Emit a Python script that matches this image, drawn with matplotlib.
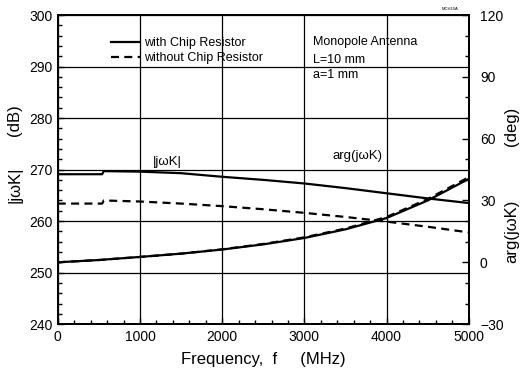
import numpy as np
import matplotlib
matplotlib.use('Agg')
import matplotlib.pyplot as plt
from matplotlib.ticker import MultipleLocator

plt.rcParams['font.family'] = ['Liberation Sans', 'DejaVu Sans']

# frequency grid (MHz)
freq = [0, 540, 560, 1000, 1500, 2000, 2500, 3000, 3500, 4000, 4500, 5000]

# |jwK| in dB
mag_with = [269.1, 269.1, 269.7, 269.6, 269.3, 268.6, 268.0, 267.3, 266.4, 265.4, 264.4, 263.5]
mag_without = [263.4, 263.4, 264.0, 263.8, 263.4, 262.9, 262.3, 261.6, 260.8, 259.9, 258.9, 257.8]

# arg(jwK) in degrees
arg_with = [0.0, 1.2, 1.3, 2.6, 4.2, 6.2, 8.7, 11.8, 16.0, 21.5, 30.0, 40.5]
arg_without = [0.0, 1.2, 1.3, 2.6, 4.2, 6.3, 8.9, 12.1, 16.4, 22.0, 30.7, 41.3]

fig = plt.figure(figsize=(5.25, 3.76), dpi=100)
ax = fig.add_axes([0.110, 0.138, 0.783, 0.822])
ax2 = ax.twinx()

lw = 1.6
dash = (0, (3.6, 2.4))
ax.plot(freq, mag_with, color='k', lw=lw, label='with Chip Resistor')
ax.plot(freq, mag_without, color='k', lw=lw, ls=dash, label='without Chip Resistor')
ax2.plot(freq, arg_with, color='k', lw=lw)
ax2.plot(freq, arg_without, color='k', lw=lw, ls=dash)

ax.set_xlim(0, 5000)
ax.set_ylim(240, 300)
ax2.set_ylim(-30, 120)

ax.xaxis.set_major_locator(MultipleLocator(1000))
ax.xaxis.set_minor_locator(MultipleLocator(200))
ax.yaxis.set_major_locator(MultipleLocator(10))
ax.yaxis.set_minor_locator(MultipleLocator(2))
ax2.yaxis.set_major_locator(MultipleLocator(30))
ax2.yaxis.set_minor_locator(MultipleLocator(10))

ax.grid(True, which='major', color='k', lw=0.9)
ax.tick_params(which='both', direction='in', top=False, right=False, labelsize=10, pad=4)
ax.tick_params(which='major', length=4, width=1)
ax.tick_params(which='minor', length=3, width=1)
ax2.tick_params(which='both', direction='in', labelsize=10, pad=8)
ax2.tick_params(which='major', length=5, width=1)
ax2.tick_params(which='minor', length=3, width=1)
for a in (ax, ax2):
    for s in a.spines.values():
        s.set_linewidth(1.4)

ax.set_xlabel('Frequency,  f     (MHz)', fontsize=12, labelpad=6)

# axis titles, split like the original
ax.text(-0.105, 0.66, '(dB)', transform=ax.transAxes, rotation=90,
        ha='center', va='center', fontsize=12)
ax.text(-0.105, 0.45, '|jωK|', transform=ax.transAxes, rotation=90,
        ha='center', va='center', fontsize=12)
ax.text(1.105, 0.64, '(deg)', transform=ax.transAxes, rotation=90,
        ha='center', va='center', fontsize=12)
ax.text(1.105, 0.30, 'arg(jωK)', transform=ax.transAxes, rotation=90,
        ha='center', va='center', fontsize=12)

# curve annotations
ax.text(1330, 271.5, '|jωK|', ha='center', va='center', fontsize=9.5)
ax.text(3650, 272.7, 'arg(jωK)', ha='center', va='center', fontsize=9.5)
ax.text(3100, 294.7, 'Monopole Antenna', ha='left', va='center', fontsize=9)
ax.text(3100, 291.2, 'L=10 mm', ha='left', va='center', fontsize=9)
ax.text(3100, 288.3, 'a=1 mm', ha='left', va='center', fontsize=9)
ax.text(0.975, 1.012, 'MCH10A', transform=ax.transAxes, ha='right', va='bottom', fontsize=3)

ax.legend(loc='upper left', bbox_to_anchor=(0.115, 0.948), frameon=False, fontsize=9,
          handlelength=2.3, handletextpad=0.35, labelspacing=0.25, borderpad=0)

fig.savefig('out.png', dpi=100)
